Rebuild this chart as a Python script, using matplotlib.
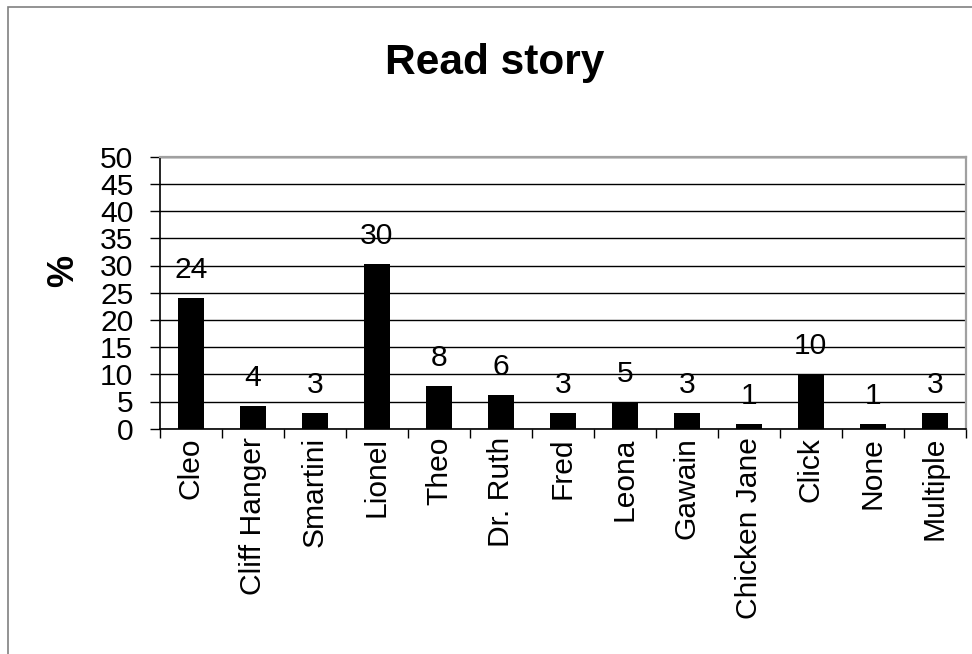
import matplotlib
matplotlib.use("Agg")
import matplotlib.pyplot as plt
from matplotlib.patches import Rectangle
import numpy as np

categories = ["Cleo", "Cliff Hanger", "Smartini", "Lionel", "Theo", "Dr. Ruth",
              "Fred", "Leona", "Gawain", "Chicken Jane", "Click", "None", "Multiple"]
values = [24.1, 4.2, 2.9, 30.3, 7.9, 6.2, 2.9, 5.0, 2.9, 0.9, 10.1, 0.9, 2.9]
labels = ["24", "4", "3", "30", "8", "6", "3", "5", "3", "1", "10", "1", "3"]
yticks = [0, 5, 10, 15, 20, 25, 30, 35, 40, 45, 50]
title = "Read story"
ylabel = "%"

plt.rcParams['font.family'] = ['Liberation Sans', 'DejaVu Sans']

W, H = 972, 654
fig = plt.figure(figsize=(W / 100, H / 100), dpi=100)
fs = 21.6

# outer chart border (cropped at right and bottom)
fig.patches.append(Rectangle((8 / W, -0.1), 2.0, 1.1 - 7 / H,
                             transform=fig.transFigure, fill=False,
                             edgecolor='#808080', linewidth=1.2))

left, right, top, bottom = 160, 965.7, 156.7, 428.7
ax = fig.add_axes([left / W, 1 - bottom / H, (right - left) / W, (bottom - top) / H])

x = np.arange(len(categories))
ax.bar(x, values, width=0.42, color='black', zorder=3)

for xi, v, lab in zip(x, values, labels):
    ax.annotate(lab, (xi, v), xytext=(0, 14.2), textcoords='offset points',
                ha='center', va='baseline', fontsize=fs, color='black', zorder=4)

ax.set_xlim(-0.5, len(categories) - 0.5)
ax.set_ylim(0, 50)
ax.set_yticks(yticks)
ax.set_yticklabels([str(t) for t in yticks], fontsize=fs)
ax.tick_params(axis='y', direction='out', length=7.2, width=1, pad=12, color='black')

ax.set_xticks(x)
ax.set_xticklabels(categories, rotation=90, fontsize=fs, ha='center', va='top')
ax.set_xticks(np.arange(-0.5, len(categories), 1.0), minor=True)
ax.tick_params(axis='x', which='major', length=0, pad=6.0)
ax.tick_params(axis='x', which='minor', direction='out', length=6.5, width=1, color='black')

ax.yaxis.grid(True, color='black', linewidth=1.0, zorder=1)
ax.set_axisbelow(True)

for s in ['left', 'bottom']:
    ax.spines[s].set_color('black')
    ax.spines[s].set_linewidth(1.2)
for s in ['top', 'right']:
    ax.spines[s].set_color('#a0a0a0')
    ax.spines[s].set_linewidth(1.6)

fig.text(495 / W, 1 - 63 / H, title, ha='center', va='center',
         fontsize=30.5, fontweight='bold')
fig.text(64 / W, 1 - 271 / H, ylabel, ha='center', va='center', rotation=90,
         fontsize=26, fontweight='bold')

fig.savefig("out.png", dpi=100, facecolor='white')
